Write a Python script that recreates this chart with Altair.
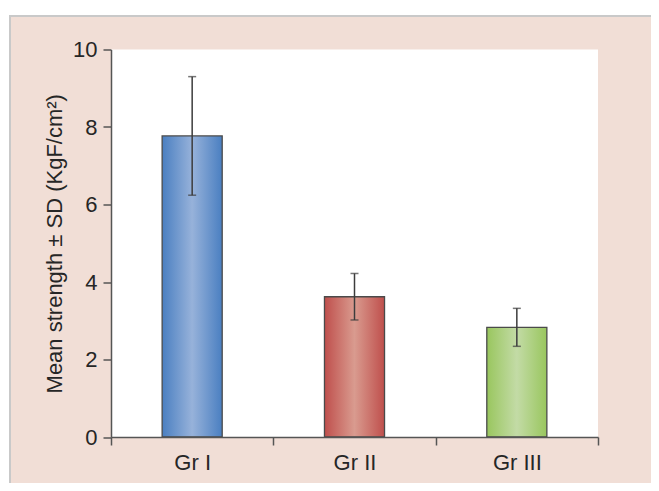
import altair as alt
import pandas as pd

groups = ["Gr I", "Gr II", "Gr III"]
means = [7.77, 3.62, 2.83]
sds = [1.53, 0.60, 0.49]
y_ticks = [0, 2, 4, 6, 8, 10]

edge_colors = ["#4a7fc1", "#bf4f4c", "#99c65e"]
mid_colors = ["#97b2da", "#d99b8f", "#c3dba6"]

df = pd.DataFrame({"group": groups, "mean": means, "sd": sds})
df["lo"] = df["mean"] - df["sd"]
df["hi"] = df["mean"] + df["sd"]

PINK = "#f1ded6"
AXIS = "#555555"
TEXT = "#262626"
FONT = "Liberation Sans"

x_enc = alt.X(
    "group:N",
    sort=groups,
    scale=alt.Scale(paddingInner=0, paddingOuter=0),
    axis=alt.Axis(
        title=None, tickBand="extent", labelAngle=0, labelFontSize=22,
        labelFont=FONT, labelColor=TEXT, labelPadding=7, tickSize=8,
        tickColor=AXIS, domainColor=AXIS, tickWidth=1.5, domainWidth=1.5,
        zindex=2,
    ),
)
y_scale = alt.Scale(domain=[0, 10], nice=False, zero=True)
y_axis = alt.Axis(
    values=y_ticks, title="Mean strength ± SD (KgF/cm²)", titleFontSize=22,
    titleFont=FONT, titleColor=TEXT, titleFontWeight="normal", titlePadding=6,
    labelFontSize=22, labelFont=FONT, labelColor=TEXT, labelPadding=6,
    tickSize=8, tickColor=AXIS, domainColor=AXIS, tickWidth=1.5,
    domainWidth=1.5, grid=False, zindex=2,
)

blank = alt.Data(values=[{}])

panel = alt.Chart(blank).mark_rect(
    fill=PINK, stroke="#c9c9c9", strokeWidth=2
).encode(
    x=alt.value(-101), x2=alt.value(545), y=alt.value(-33.5), y2=alt.value(440)
)
plot_bg = alt.Chart(blank).mark_rect(fill="white").encode(
    x=alt.value(0), x2=alt.value("width"), y=alt.value(0), y2=alt.value("height")
)

bars = []
for g, ec, mc in zip(groups, edge_colors, mid_colors):
    grad = alt.LinearGradient(
        gradient="linear", x1=0, x2=1, y1=0, y2=0,
        stops=[
            alt.GradientStop(color=ec, offset=0),
            alt.GradientStop(color=mc, offset=0.5),
            alt.GradientStop(color=ec, offset=1),
        ],
    )
    bars.append(
        alt.Chart(df).transform_filter(alt.datum.group == g).mark_bar(
            fill=grad, stroke="#4a4a4a", strokeWidth=1.3,
            width=alt.RelativeBandSize(0.37),
        ).encode(x=x_enc, y=alt.Y("mean:Q", scale=y_scale, axis=y_axis))
    )

err = alt.Chart(df).mark_rule(color="#3c3c3c", strokeWidth=1.5).encode(
    x=x_enc, y=alt.Y("lo:Q", scale=y_scale), y2="hi:Q"
)
cap_lo = alt.Chart(df).mark_tick(color="#3c3c3c", thickness=1.5, size=8).encode(
    x=x_enc, y=alt.Y("lo:Q", scale=y_scale)
)
cap_hi = alt.Chart(df).mark_tick(color="#3c3c3c", thickness=1.5, size=8).encode(
    x=x_enc, y=alt.Y("hi:Q", scale=y_scale)
)

chart = alt.layer(panel, plot_bg, *bars, err, cap_lo, cap_hi).properties(
    width=487, height=387.5,
    autosize=alt.AutoSizeParams(type="none"),
    padding={"left": 103, "top": 41.5, "right": 53, "bottom": 46},
    background="white",
).configure_view(stroke=AXIS, strokeWidth=1.5)

chart.save("out.html", embed_options={"renderer": "svg", "actions": False})
